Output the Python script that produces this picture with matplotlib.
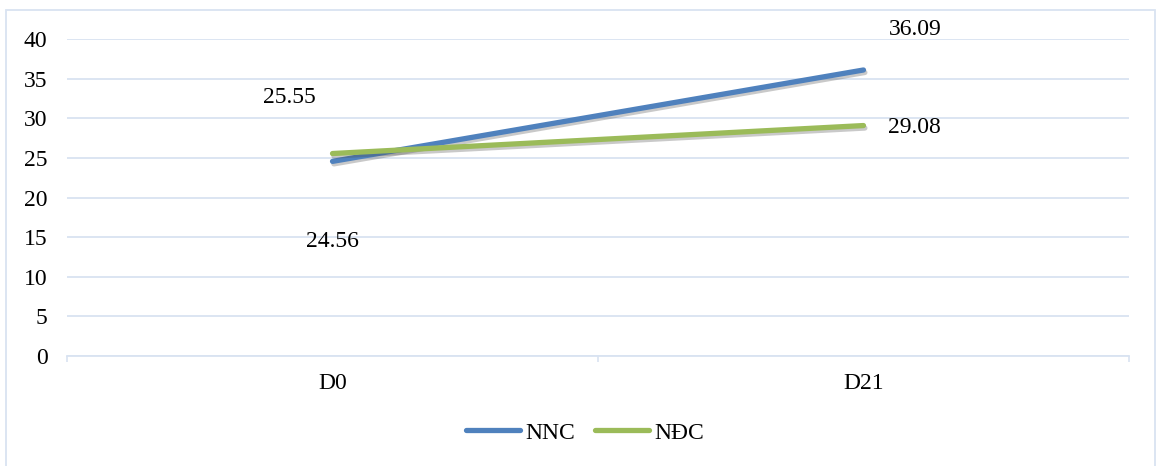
import matplotlib.pyplot as plt
import matplotlib.patheffects as pe
from matplotlib.patches import Rectangle
from matplotlib.lines import Line2D

# số liệu
ngay = ["D0", "D21"]
nnc = [24.56, 36.09]
ndc = [25.55, 29.08]

plt.rcParams['font.family'] = ['Liberation Serif', 'DejaVu Serif']
plt.rcParams['font.size'] = 17

xanh = "#4F81BD"
la = "#9BBB59"
luoi = "#D9E3F1"

fig = plt.figure(figsize=(11.56, 4.66), dpi=100)
ax = fig.add_axes([0.058, 0.236, 0.9186, 0.6803])

x = list(range(len(ngay)))
bong = [pe.SimpleLineShadow(offset=(1, -1.8), shadow_color="0.3", alpha=0.3),
        pe.Normal()]
ax.plot(x, nnc, color=xanh, lw=3.8, solid_capstyle="round",
        path_effects=bong, zorder=3)
ax.plot(x, ndc, color=la, lw=3.8, solid_capstyle="round",
        path_effects=bong, zorder=3)

# nhãn giá trị
ax.annotate(f"{nnc[0]:.2f}", (x[0], nnc[0]), xytext=(0, -57.6),
            textcoords="offset points", ha="center", va="center")
ax.annotate(f"{ndc[0]:.2f}", (x[0], ndc[0]), xytext=(-31, 40),
            textcoords="offset points", ha="center", va="center")
ax.annotate(f"{nnc[1]:.2f}", (x[1], nnc[1]), xytext=(37, 29.5),
            textcoords="offset points", ha="center", va="center",
            annotation_clip=False)
ax.annotate(f"{ndc[1]:.2f}", (x[1], ndc[1]), xytext=(37, -1.5),
            textcoords="offset points", ha="center", va="center")

ax.set_xlim(-0.5, 1.5)
ax.set_ylim(0, 40)
ax.set_yticks(range(0, 41, 5))
ax.set_xticks(x)
ax.set_xticklabels(ngay)
ax.set_xticks([-0.5, 0.5, 1.5], minor=True)
ax.tick_params(axis="y", length=0, pad=14)
ax.tick_params(axis="x", which="major", length=0, pad=12)
ax.tick_params(axis="x", which="minor", length=4.5, width=1.2, color=luoi)

ax.grid(axis="y", color=luoi, lw=1.3)
ax.set_axisbelow(True)
for s in ["top", "right", "left"]:
    ax.spines[s].set_visible(False)
ax.spines["bottom"].set_color(luoi)
ax.spines["bottom"].set_linewidth(1.3)

# chú giải
handles = [Line2D([], [], color=xanh, lw=3.8, solid_capstyle="round"),
           Line2D([], [], color=la, lw=3.8, solid_capstyle="round")]
fig.legend(handles, ["NNC", "NĐC"], loc="center", bbox_to_anchor=(0.506, 0.071),
           ncol=2, frameon=False, handlelength=2.3, handletextpad=0.2,
           columnspacing=0.85)

# khung ngoài
fig.patches.append(Rectangle((6 / 1156, -0.05), 1149 / 1156, 1.05 - 10 / 466,
                             transform=fig.transFigure, fill=False,
                             edgecolor=luoi, lw=1.3))

fig.savefig("out.png", dpi=100)
